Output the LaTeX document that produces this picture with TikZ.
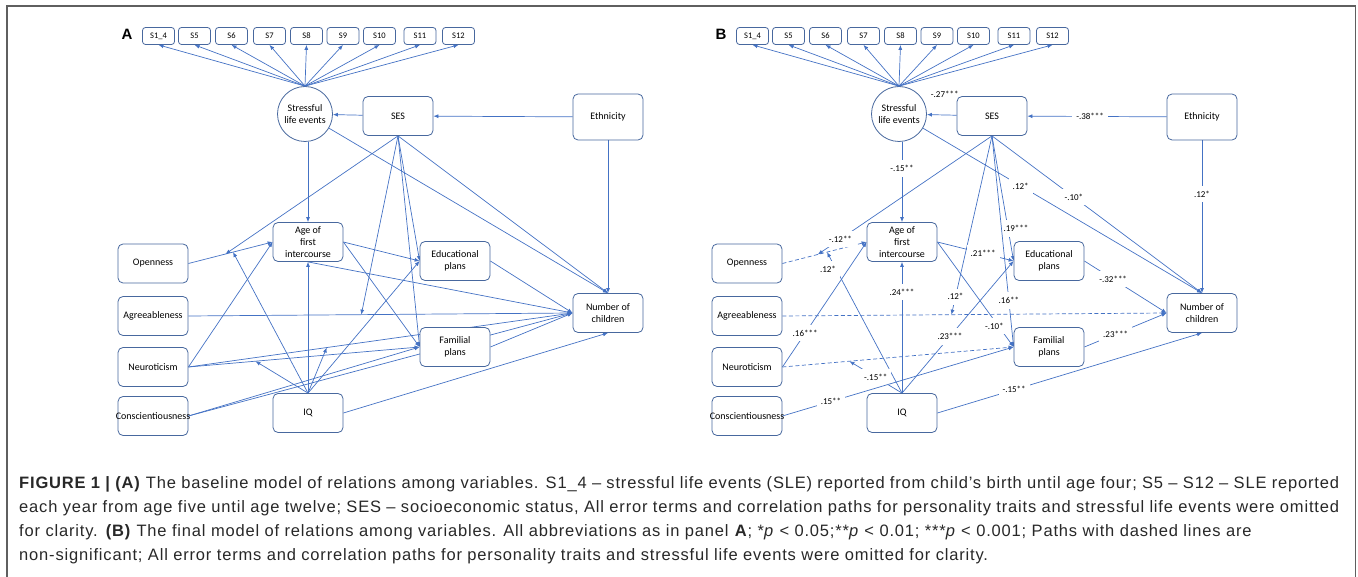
\documentclass[tikz,border=0pt]{standalone}
\usepackage{fontspec}
\setmainfont{Carlito}
\newfontfamily\capfont[LetterSpace=5]{Liberation Sans}
\usetikzlibrary{arrows.meta, backgrounds, calc}
\definecolor{lineBlue}{RGB}{68, 114, 196}
\definecolor{boxBlue}{RGB}{72, 104, 158}
\definecolor{capGrey}{RGB}{40, 40, 40}
\definecolor{frameGrey}{RGB}{95, 95, 95}

\begin{document}
\begin{tikzpicture} [
        x=1pt, y=-1pt,
        box/.style={draw=boxBlue, line width=.8pt, rounded corners=5pt, fill=white, minimum width=70pt, minimum height=39pt, inner sep=1pt, align=center, font=\fontsize{10}{11.7}\selectfont},
        sbox/.style={draw=boxBlue, line width=.8pt, rounded corners=3pt, fill=white, minimum width=32pt, minimum height=17pt, inner sep=1pt, font=\fontsize{8.5}{10}\selectfont},
        latent/.style={draw=boxBlue, line width=.8pt, circle, fill=white, minimum size=55pt, inner sep=0pt, align=center, font=\fontsize{10}{11.7}\selectfont},
        arr/.style={draw=lineBlue, line width=.7pt, -{Latex[length=5pt, width=4pt]}},
        ns/.style={dash pattern=on 4pt off 2.5pt},
        coef/.style={fill=white, inner xsep=4pt, inner ysep=5pt, font=\fontsize{9}{10}\selectfont},
        panel/.style={font=\capfont\bfseries\fontsize{15}{15}\selectfont},
        caption/.style={anchor=north west, text width=1320pt, align=justify, inner sep=0pt, text=capGrey, font=\capfont\fontsize{16.5}{24}\selectfont},
    ]

    \useasboundingbox (0,0) rectangle (1358,577);
    \draw[frameGrey, line width=1.5pt] (7,580) -- (7,6) -- (1355.5,6) -- (1355.5,580);

    % both panels share the same layout
    \foreach \p/\dx/\lbl in {a/0/A, b/594/B} {
        \node[panel] (\p-letter) at (\dx+127, 34) {\lbl};
        \node[latent] (\p-sle) at (\dx+305, 114) {Stressful\\life events};
        \node[box] (\p-ses) at (\dx+398, 116) {SES};
        \node[box, minimum height=46pt] (\p-eth) at (\dx+608, 117) {Ethnicity};
        \node[box] (\p-open) at (\dx+153, 263.5) {Openness};
        \node[box] (\p-agree) at (\dx+153, 316) {Agreeableness};
        \node[box] (\p-neur) at (\dx+153, 367) {Neuroticism};
        \node[box] (\p-cons) at (\dx+153, 416) {\makebox[60pt]{Conscientiousness}};
        \node[box] (\p-age) at (\dx+308, 242) {Age of\\first\\intercourse};
        \node[box] (\p-iq) at (\dx+308, 413) {IQ};
        \node[box] (\p-edu) at (\dx+455, 261) {Educational\\plans};
        \node[box] (\p-fam) at (\dx+455, 347) {Familial\\plans};
        \node[box] (\p-num) at (\dx+608, 313) {Number of\\children};
        \foreach \s/\sx [count=\i] in {S1\_4/158.5, S5/194.5, S6/231.5, S7/269.5, S8/306.5, S9/343, S10/379.5, S11/420, S12/458.5} {
            \node[sbox] (\p-s\i) at (\dx+\sx, 36) {\s};
            \draw[arr] (\p-sle.north) -- (\p-s\i.south);
        }
    }

    % panel A: baseline model
    \begin{scope}[on background layer]
        \draw[arr] (a-ses) -- (a-sle);
        \draw[arr] (a-eth) -- (a-ses);
        \draw[arr] (a-eth) -- (a-num);
        \draw[arr] (a-age.north |- a-sle.south) -- (a-age);
        \draw[arr] (a-sle) -- (a-num.north);
        \draw[arr] (a-ses.south) -- (a-num.north);
        \draw[arr] (a-ses.south) -- (a-edu.west);
        \draw[arr] (a-ses.south) -- (a-fam.west);
        \draw[arr] (a-open.east) -- coordinate[pos=.44] (a-open-m1) coordinate[pos=.53] (a-open-m2) (a-age.west);
        \draw[arr] (a-agree.east) -- coordinate[pos=.45] (a-agree-m) (a-num.west);
        \draw[arr] (a-neur.east) -- coordinate[pos=.29] (a-neur-m1) (a-fam.west);
        \draw[arr] (a-neur.east) -- coordinate[pos=.36] (a-neur-m2) (a-num.west);
        \draw[arr] (a-neur.east) -- (a-age.west);
        \draw[arr] (a-cons.east) -- (a-fam.west);
        \draw[arr] (a-cons.east) -- (a-num.west);
        \draw[arr] (a-ses.south) -- (a-open-m1);
        \draw[arr] (a-ses.south) -- (a-agree-m);
        \draw[arr] (a-iq.north) -- (a-age.south);
        \draw[arr] (a-iq.north) -- (a-open-m2);
        \draw[arr] (a-iq.north) -- (a-neur-m1);
        \draw[arr] (a-iq.north) -- (a-neur-m2);
        \draw[arr] (a-iq.north) -- (a-edu.west);
        \draw[arr] (a-iq.east) -- (a-num.south);
        \draw[arr] (a-age.east) -- (a-edu.west);
        \draw[arr] (a-age.east) -- (a-fam.west);
        \draw[arr] (a-age.south) -- (a-num.west);
        \draw[arr] (a-edu.east) -- (a-num.west);
        \draw[arr] (a-fam.east) -- (a-num.west);
    \end{scope}

    % panel B: final model
    \begin{scope}[on background layer]
        \draw[arr, ns] (b-open.east) -- coordinate[pos=.42] (b-open-m1) coordinate[pos=.53] (b-open-m2) (b-age.west);
        \draw[arr, ns] (b-agree.east) -- coordinate[pos=.44] (b-agree-m) (b-num.west);
        \draw[arr, ns] (b-neur.east) -- coordinate[pos=.29] (b-neur-m) (b-fam.west);
        \draw[arr] (b-ses) -- node[coef, pos=.4, above=12pt] {-.27***} (b-sle);
        \draw[arr] (b-eth) -- node[coef, pos=.55] {-.38***} (b-ses);
        \draw[arr] (b-eth) -- node[coef, pos=.35] {.12*} (b-num);
        \draw[arr] (b-age.north |- b-sle.south) -- node[coef, pos=.33] {-.15**} (b-age);
        \draw[arr] (b-sle) -- node[coef, pos=.35] {.12*} (b-num.north);
        \draw[arr] (b-ses.south) -- node[coef, pos=.39] {-.10*} (b-num.north);
        \draw[arr] (b-ses.south) -- node[coef, pos=.74, xshift=8pt] {.19***} (b-edu.west);
        \draw[arr] (b-ses.south) -- node[coef, pos=.78] {.16**} (b-fam.west);
        \draw[arr] (b-ses.south) -- node[coef, pos=.87] {-.12**} (b-open-m1);
        \draw[arr] (b-ses.south) -- node[coef, pos=.9] {.12*} (b-agree-m);
        \draw[arr] (b-iq.north) -- node[coef, pos=.77] {.24***} (b-age.south);
        \draw[arr] (b-iq.north) -- node[coef, pos=.88, xshift=-8pt] {.12*} (b-open-m2);
        \draw[arr] (b-iq.north) -- node[coef, pos=.5] {-.15**} (b-neur-m);
        \draw[arr] (b-iq.north) -- node[coef, pos=.43] {.23***} (b-edu.west);
        \draw[arr] (b-iq.east) -- node[coef, pos=.29] {-.15**} (b-num.south);
        \draw[arr] (b-neur.east) -- node[coef, pos=.27] {.16***} (b-age.west);
        \draw[arr] (b-cons.east) -- node[coef, pos=.21] {.15**} (b-fam.west);
        \draw[arr] (b-age.east) -- node[coef, pos=.6] {.21***} (b-edu.west);
        \draw[arr] (b-age.east) -- node[coef, pos=.8, xshift=-4pt] {-.10*} (b-fam.west);
        \draw[arr] (b-edu.east) -- node[coef, pos=.35] {-.32***} (b-num.west);
        \draw[arr] (b-fam.east) -- node[coef, pos=.38] {.23***} (b-num.west);
    \end{scope}

    \node[caption] (caption) at (19,476) {\textbf{FIGURE 1 | (A)} The baseline model of relations among variables. S1\_4 – stressful life events (SLE) reported from child’s birth until age four; S5 – S12 – SLE reported\linebreak
    each year from age five until age twelve; SES – socioeconomic status, All error terms and correlation paths for personality traits and stressful life events were omitted\linebreak
    for clarity. \textbf{(B)} The final model of relations among variables. All abbreviations as in panel \textbf{A}; *\textit{p} \textless{} 0.05;**\textit{p} \textless{} 0.01; ***\textit{p} \textless{} 0.001; Paths with dashed lines are\newline
    non-significant; All error terms and correlation paths for personality traits and stressful life events were omitted for clarity.};

\end{tikzpicture}
\end{document}
